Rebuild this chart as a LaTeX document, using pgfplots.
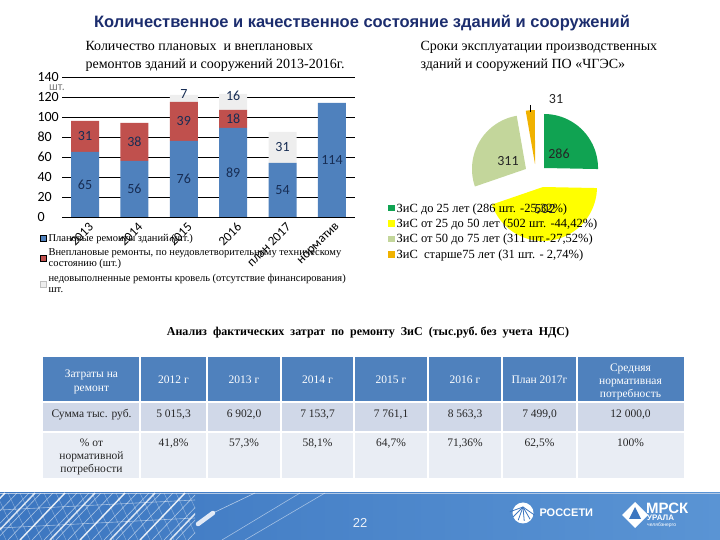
\documentclass[border=0pt]{standalone}
\usepackage{pgfplots}
\pgfplotsset{compat=1.18}
\usepackage{pgfplotstable}
\usepackage{fontspec}
\setmainfont{Liberation Serif}
\newfontfamily\sansf{Liberation Sans}
\newfontfamily\calib{Carlito}

\definecolor{ttl}{RGB}{28,45,110}
\definecolor{cblue}{RGB}{79,129,189}
\definecolor{cred}{RGB}{192,80,77}
\definecolor{cgray}{RGB}{238,238,238}
\definecolor{lbl}{RGB}{23,45,84}
\definecolor{pgreen}{RGB}{16,163,82}
\definecolor{pyellow}{RGB}{255,255,0}
\definecolor{plgreen}{RGB}{195,214,155}
\definecolor{porange}{RGB}{240,178,0}
\definecolor{thead}{RGB}{79,129,189}
\definecolor{trow1}{RGB}{208,216,232}
\definecolor{trow2}{RGB}{233,237,244}
\definecolor{foot1}{RGB}{60,118,192}
\definecolor{foot2}{RGB}{90,148,212}

\pgfplotstableread{
x blue red gray
0 65 31 0
1 56 38 0
2 76 39 7
3 89 18 16
4 54 0 31
5 114 0 0
}\bardata

% pie values
\def\vA{286}\def\vB{502}\def\vC{311}\def\vD{31}
\pgfmathsetmacro\ptot{\vA+\vB+\vC+\vD}
\pgfmathsetmacro\aA{90}
\pgfmathsetmacro\aB{\aA-\vA/\ptot*360}
\pgfmathsetmacro\aC{\aB-\vB/\ptot*360}
\pgfmathsetmacro\aD{\aC-\vC/\ptot*360}
\pgfmathsetmacro\aE{\aD-\vD/\ptot*360}

\begin{document}
\begin{tikzpicture}[x=1pt,y=1pt]
\path[use as bounding box] (0,0) rectangle (720,540);

% main title
\node[anchor=base, font=\sansf\bfseries\fontsize{16.5}{18}\selectfont, text=ttl] at (362,512)
  {Количественное и качественное состояние зданий и сооружений};

% bar chart title
\node[anchor=base west, font=\fontsize{14}{16}\selectfont] at (82,489) {Количество плановых\ \ и внеплановых};
\node[anchor=base west, font=\fontsize{14}{16}\selectfont] at (82,471) {ремонтов зданий и сооружений 2013-2016г.};

% pie title
\node[anchor=base west, font=\fontsize{14}{16}\selectfont] at (417,489) {Сроки эксплуатации производственных};
\node[anchor=base west, font=\fontsize{14}{16}\selectfont] at (417,471) {зданий и сооружений ПО «ЧГЭС»};

\node[font=\calib\fontsize{12}{12}\selectfont, text=gray] at (57,452) {шт.};

% bar chart
\begin{axis}[
  at={(62pt,323pt)}, anchor=south west,
  scale only axis, width=293pt, height=140pt,
  ybar stacked, bar width=28pt,
  xmin=-0.466, xmax=5.466, ymin=0, ymax=140,
  ytick={0,20,...,140},
  xtick={0,...,5},
  xticklabels={2013,2014,2015,2016,план 2017,норматив},
  axis line style={draw=none},
  major tick length=0pt,
  ymajorgrids, grid style={black, line width=0.7pt},
  /pgf/number format/assume math mode=true,
  yticklabel style={font=\calib\fontsize{14}{14}\selectfont, anchor=west, xshift=-28pt},
  xticklabel style={font=\calib\fontsize{13}{13}\selectfont, rotate=45, anchor=east, yshift=-10pt, xshift=2pt},
  legend style={at={(-0.075,-0.107)}, anchor=north west, draw=none, fill=none,
     font=\fontsize{10.5}{11}\selectfont, cells={align=left}, inner sep=0pt, row sep=2pt},
  legend cell align=left,
  legend image code/.code={\draw[#1] (0pt,-3pt) rectangle (6pt,3pt);},
  clip=false,
]
\addplot[fill=cblue, draw=none] table[x=x,y=blue]{\bardata};
\addplot[fill=cred, draw=none] table[x=x,y=red]{\bardata};
\addplot[fill=cgray, draw=none, legend image post style={draw=black!25}] table[x=x,y=gray]{\bardata};
\legend{{Плановые ремонты зданий (шт.)},
  {Внеплановые ремонты, по неудовлетворительному техническому\\состоянию (шт.)},
  {недовыполненные ремонты кровель (отсутствие финансирования)\\шт.}}
\end{axis}

% bar labels
\begin{axis}[
  at={(62pt,323pt)}, anchor=south west,
  scale only axis, width=293pt, height=140pt,
  xmin=-0.466, xmax=5.466, ymin=0, ymax=140,
  hide axis, clip=false]
\addplot[draw=none, mark=none, nodes near coords, point meta=explicit symbolic,
  every node near coord/.append style={anchor=center, font=\calib\fontsize{14}{14}\selectfont, text=lbl}]
  coordinates {
  (0,32.5)[65] (0,80.5)[31]
  (1,28)[56] (1,75)[38]
  (2,38)[76] (2,95.5)[39] (2,123)[7]
  (3,44.5)[89] (3,98)[18] (3,121)[16]
  (4,27)[54] (4,69.5)[31]
  (5,57)[114]};
\end{axis}

% pie chart
\begin{axis}[
  at={(535pt,368pt)}, anchor=center,
  scale only axis, width=216pt, height=216pt,
  xmin=-2, xmax=2, ymin=-2, ymax=2,
  hide axis, clip=false,
  legend style={at={(-0.181,0.365)}, anchor=north west, draw=none, fill=none,
     font=\fontsize{12.5}{13}\selectfont, inner sep=0pt, row sep=1.3pt},
  legend cell align=left,
  legend image code/.code={\fill[#1] (0pt,-3pt) rectangle (6.5pt,3.5pt);},
]
\addplot[fill=pgreen, draw=none, domain=\aB:\aA, samples=40, variable=\t]
  ({0.167+cos(\t)},{0.074+sin(\t)}) -- (axis cs:0.167,0.074) -- cycle;
\addplot[fill=pyellow, draw=none, domain=\aC:\aB, samples=50, variable=\t]
  ({0.148+cos(\t)},{-0.278+sin(\t)}) -- (axis cs:0.148,-0.278) -- cycle;
\addplot[fill=plgreen, draw=none, domain=\aD:\aC, samples=40, variable=\t]
  ({-0.167+cos(\t)},{0.056+sin(\t)}) -- (axis cs:-0.167,0.056) -- cycle;
\addplot[fill=porange, draw=none, domain=\aE:\aD, samples=10, variable=\t]
  ({0+cos(\t)},{0.148+sin(\t)}) -- (axis cs:0,0.148) -- cycle;
\node[font=\calib\fontsize{14}{14}\selectfont, text=black!85] at (axis cs:0.444,0.333) {286};
\node[font=\calib\fontsize{14}{14}\selectfont, text=black!85] at (axis cs:-0.5,0.204) {311};
\node[font=\calib\fontsize{14}{14}\selectfont, text=black!85] at (axis cs:0.389,1.352) {31};
\legend{{ЗиС до 25 лет (286 шт. -25,32\%)}, {ЗиС от 25 до 50 лет (502 шт. -44,42\%)},
  {ЗиС от 50 до 75 лет (311 шт.-27,52\%)}, {ЗиС\ \ старше75 лет (31 шт. - 2,74\%)}}
\end{axis}
\draw[black, line width=0.6pt] (530,435) -- (530,428);
\node[font=\calib\fontsize{14}{14}\selectfont, text=black!85] at (545,331) {502};

% table title
\node[anchor=base, font=\bfseries\fontsize{12}{14}\selectfont] at (368,204)
  {Анализ\ \ фактических\ \ затрат\ \ по\ \ ремонту\ \ ЗиС\ \ (тыс.руб.\ без\ \ учета\ \ НДС)};

% table
\fill[thead] (43,138) rectangle (684,183);
\fill[trow1] (43,108) rectangle (684,138);
\fill[trow2] (43,62) rectangle (684,108);
\foreach \x in {140,207,281,354,428,502,577} \draw[white, line width=2pt] (\x,62) -- (\x,183);
\draw[white, line width=2.5pt] (43,138) -- (684,138);
\draw[white, line width=1.5pt] (43,108) -- (684,108);
\begin{scope}[every node/.style={font=\fontsize{11.5}{13}\selectfont, anchor=base}]
\node[text=white] at (91.5,162) {Затраты на};
\node[text=white] at (91.5,148) {ремонт};
\foreach \x/\t in {173.5/2012 г, 244/2013 г, 317.5/2014 г, 391/2015 г, 465/2016 г, 539.5/План 2017г}
  \node[text=white] at (\x,156) {\t};
\node[text=white] at (630.5,168) {Средняя};
\node[text=white] at (630.5,155) {нормативная};
\node[text=white] at (630.5,142) {потребность};
\node[text=black!85] at (91.5,122) {Сумма тыс. руб.};
\foreach \x/\t in {173.5/{5 015,3}, 244/{6 902,0}, 317.5/{7 153,7}, 391/{7 761,1}, 465/{8 563,3}, 539.5/{7 499,0}, 630.5/{12 000,0}}
  \node[text=black!85] at (\x,122) {\t};
\node[text=black!85] at (91.5,93) {\% от};
\node[text=black!85] at (91.5,80) {нормативной};
\node[text=black!85] at (91.5,67) {потребности};
\foreach \x/\t in {173.5/{41,8\%}, 244/{57,3\%}, 317.5/{58,1\%}, 391/{64,7\%}, 465/{71,36\%}, 539.5/{62,5\%}, 630.5/{100\%}}
  \node[text=black!85] at (\x,93) {\t};
\end{scope}

% footer
\shade[left color=foot1, right color=foot2] (0,0) rectangle (720,47);
\draw[white!60!foot1, line width=0.8pt] (0,47) -- (720,47);
\begin{scope}
\clip (0,0) rectangle (195,47);
\foreach \i in {-40,-28,...,200} {
  \draw[white, opacity=0.55, line width=0.6pt] (\i,0) -- (\i+45,47);
  \draw[white, opacity=0.35, line width=0.5pt] (\i,47) -- (\i+22,0);
}
\foreach \i in {-40,-10,...,200} \draw[white, opacity=0.8, line width=1.5pt] (\i,0) -- (\i+45,47);
\draw[white, opacity=0.5, line width=0.6pt] (0,30) -- (195,40);
\draw[white, opacity=0.5, line width=0.6pt] (0,12) -- (195,22);
\end{scope}
\draw[white!85!foot1, line width=4.5pt, line cap=round] (198,16) -- (213,27);
\draw[white, opacity=0.6, line width=0.6pt] (213,27) -- (255,47);
\draw[white, opacity=0.5, line width=0.6pt] (222,0) -- (300,47);
\draw[white, opacity=0.5, line width=0.6pt] (245,0) -- (325,47);
\node[font=\sansf\fontsize{13}{13}\selectfont, text=white!90!foot1] at (360,17) {22};
% logos
\fill[white] (523,27) circle (10.5);
\foreach \a in {200,225,...,340} \draw[foot1, line width=0.8pt] (523,33) -- ++(\a:14);
\node[anchor=west, font=\sansf\bfseries\fontsize{11}{11}\selectfont, text=white] at (536,27) {РОССЕТИ};
\fill[white] (635,38) -- (648,25) -- (635,12) -- (622,25) -- cycle;
\fill[foot1] (635,33) -- (641,21) -- (629,21) -- cycle;
\node[anchor=west, font=\sansf\bfseries\fontsize{15}{15}\selectfont, text=white, inner sep=0] at (646,32) {МРСК};
\node[anchor=west, font=\sansf\bfseries\fontsize{8}{8}\selectfont, text=white, inner sep=0] at (647,22) {УРАЛА};
\node[anchor=west, font=\sansf\fontsize{5}{5}\selectfont, text=white, inner sep=0] at (647,14.5) {челябэнерго};
\end{tikzpicture}
\end{document}
